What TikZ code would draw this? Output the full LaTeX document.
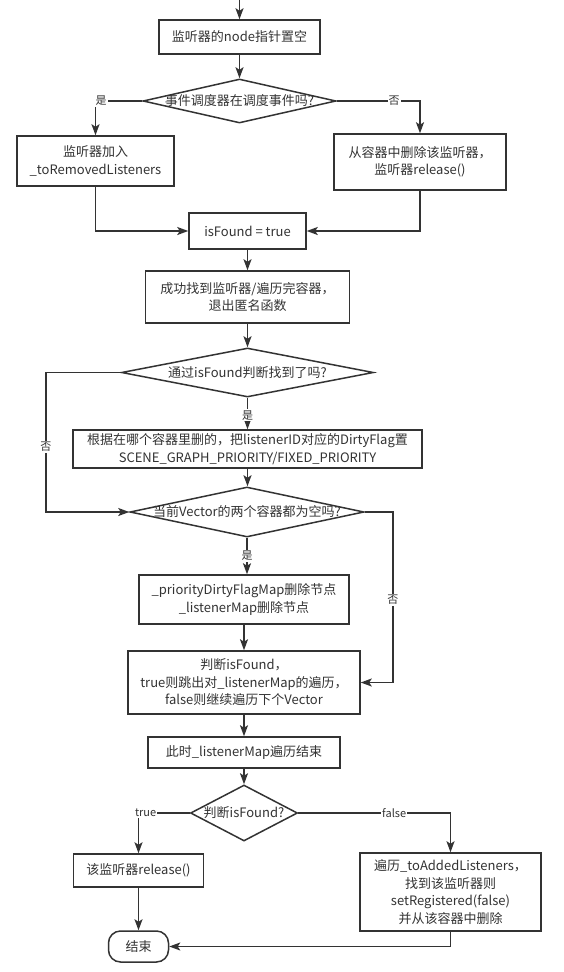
\documentclass[tikz,border=0pt]{standalone}
\usepackage{fontspec}
\setmainfont{Noto Sans CJK SC}
\usetikzlibrary{shapes.geometric,arrows.meta,calc}
\definecolor{linec}{HTML}{333333}
\definecolor{textc}{HTML}{333333}
\begin{document}
\begin{tikzpicture}[x=1pt,y=-1pt,
  box/.style={draw=linec,line width=1.5pt,fill=white,text=textc,align=center,inner sep=0pt,font=\fontsize{13pt}{17.5pt}\selectfont},
  dia/.style={diamond,draw=linec,line width=1.5pt,fill=white,text=textc,inner sep=0pt,aspect=1,font=\fontsize{13pt}{17.5pt}\selectfont},
  conn/.style={draw=linec,line width=1.5pt,-{Stealth[length=11pt,width=8pt,inset=2.5pt]}},
  lbl/.style={fill=white,text=textc,inner sep=1pt,font=\fontsize{11pt}{13pt}\selectfont}
]
\useasboundingbox[fill=white] (0,0) rectangle (563,972);

\coordinate (top) at (239.5,0);
\node[box,minimum width=161pt,minimum height=34pt] (b1) at (239.5,37) {监听器的node指针置空};
\node[dia,minimum width=193pt,minimum height=44pt] (d1) at (239.5,101) {\makebox[0pt]{事件调度器在调度事件吗?}};
\node[box,minimum width=157pt,minimum height=50pt] (b2) at (95.5,161) {监听器加入\\\_toRemovedListeners};
\node[box,minimum width=172pt,minimum height=56pt] (b3) at (420,162) {从容器中删除该监听器，\\监听器release()};
\node[box,minimum width=117pt,minimum height=36pt] (b4) at (247.5,231) {isFound = true};
\node[box,minimum width=204pt,minimum height=52pt] (b5) at (247.5,297) {成功找到监听器/遍历完容器，\\退出匿名函数};
\node[dia,minimum width=252pt,minimum height=49pt] (d2) at (247.5,372.5) {\makebox[0pt]{通过isFound判断找到了吗?}};
\node[box,minimum width=349pt,minimum height=38pt] (b6) at (247.5,449) {根据在哪个容器里删的，把listenerID对应的DirtyFlag置\\SCENE\_GRAPH\_PRIORITY/FIXED\_PRIORITY};
\node[dia,minimum width=234pt,minimum height=50pt] (d3) at (247,512) {\makebox[0pt]{当前Vector的两个容器都为空吗?}};
\node[box,minimum width=210pt,minimum height=49pt] (b7) at (244,599.5) {\_priorityDirtyFlagMap删除节点\\\_listenerMap删除节点};
\node[box,minimum width=232pt,minimum height=63pt] (b8) at (244,682.5) {判断isFound，\\true则跳出对\_listenerMap的遍历，\\false则继续遍历下个Vector};
\node[box,minimum width=192pt,minimum height=31pt] (b9) at (244,752.5) {此时\_listenerMap遍历结束};
\node[dia,minimum width=107pt,minimum height=56pt] (d4) at (244,813) {\makebox[0pt]{判断isFound?}};
\node[box,minimum width=130pt,minimum height=33pt] (b10) at (138.5,870.5) {该监听器release()};
\node[box,minimum width=181pt,minimum height=78pt] (b11) at (450.5,892) {遍历\_toAddedListeners，\\找到该监听器则\\setRegistered(false)\\并从该容器中删除};
\node[box,rounded corners=12pt,minimum width=60pt,minimum height=31pt] (e) at (138.5,946.5) {结束};

\draw[conn] (top) -- (b1.north);
\draw[conn] (b1.south) -- (d1.north);
\draw[conn] (d1.west) -| node[lbl,pos=0.44] {是} (b2.north);
\draw[conn] (d1.east) -| node[lbl,pos=0.345] {否} (b3.north);
\draw[conn] (b2.south) |- (b4.west);
\draw[conn] (b3.south) |- (b4.east);
\draw[conn] (b4.south) -- (b5.north);
\draw[conn] (b5.south) -- (d2.north);
\draw[conn] (d2.west) -- ++(-75,0) |- node[lbl,pos=0.267] {否} (d3.west);
\draw[conn] (d2.south) -- node[lbl,pos=0.55] {是} (b6.north);
\draw[conn] (b6.south) -- (b6.south |- d3.north);
\draw[conn] (d3.south) -- node[lbl,pos=0.5] {是} (d3.south |- b7.north);
\draw[conn] (d3.east) -- ++(28,0) |- node[lbl,pos=0.258] {否} (b8.east);
\draw[conn] (b7.south) -- (b8.north);
\draw[conn] (b8.south) -- (b9.north);
\draw[conn] (b9.south) -- (d4.north);
\draw[conn] (d4.west) -| node[lbl,pos=0.43] {true} (b10.north);
\draw[conn] (d4.east) -| node[lbl,pos=0.315] {false} (b11.north);
\draw[conn] (b10.south) -- (e.north);
\draw[conn] (b11.south) |- (e.east);
\end{tikzpicture}
\end{document}
